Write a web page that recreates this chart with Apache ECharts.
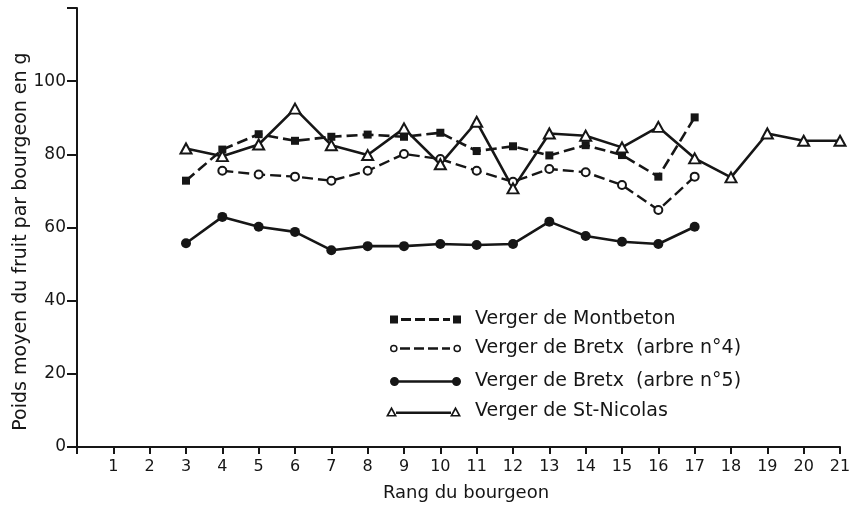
<!DOCTYPE html>
<html>
<head>
<meta charset="utf-8">
<script src="https://cdn.jsdelivr.net/npm/echarts@6/dist/echarts.min.js"></script>
<style>html,body{margin:0;padding:0;background:#fff;}#c{width:850px;height:508px;}</style>
</head>
<body>
<div id="c"></div>
<script>
var xTicks = [0,1,2,3,4,5,6,7,8,9,10,11,12,13,14,15,16,17,18,19,20,21];
var yTicks = [0,20,40,60,80,100,120];
var seriesNames = ["Verger de Montbeton","Verger de Bretx  (arbre n°4)","Verger de Bretx  (arbre n°5)","Verger de St-Nicolas"];
var montbetonX = [3,4,5,6,7,8,9,10,11,12,13,14,15,16,17];
var montbetonY = [72.8,81.3,85.5,83.7,84.8,85.4,84.8,85.9,80.9,82.2,79.7,82.5,79.8,73.9,90.1];
var bretx4X = [4,5,6,7,8,9,10,11,12,13,14,15,16,17];
var bretx4Y = [75.5,74.5,73.9,72.8,75.5,80.1,78.7,75.5,72.5,76.0,75.1,71.6,64.8,73.9];
var bretx5X = [3,4,5,6,7,8,9,10,11,12,13,14,15,16,17];
var bretx5Y = [55.7,62.9,60.2,58.8,53.8,54.9,54.9,55.5,55.2,55.5,61.6,57.7,56.1,55.5,60.2];
var nicolasX = [3,4,5,6,7,8,9,10,11,12,13,14,15,16,17,18,19,20,21];
var nicolasY = [81.6,79.5,82.7,92.5,82.5,79.8,87.1,77.3,88.9,70.7,85.7,85.1,81.9,87.5,78.9,73.7,85.7,83.7,83.7];

function pairs(xs, ys){ return xs.map(function(x,i){ return [x, ys[i]]; }); }

var INK = '#161616';
var FONT = 'DejaVu Sans';

var icons = [
  'path://M0 0H8V8H0Z M63 0H71V8H63Z M11 2.6H21V5.4H11Z M25 2.6H35V5.4H25Z M39 2.6H49V5.4H39Z M53 2.6H60V5.4H53Z',
  'path://M0 3.8A3.8 3.8 0 1 1 7.6 3.8A3.8 3.8 0 1 1 0 3.8Z M1.5 3.8A2.3 2.3 0 1 0 6.1 3.8A2.3 2.3 0 1 0 1.5 3.8Z ' +
    'M63.4 3.8A3.8 3.8 0 1 1 71 3.8A3.8 3.8 0 1 1 63.4 3.8Z M64.9 3.8A2.3 2.3 0 1 0 69.5 3.8A2.3 2.3 0 1 0 64.9 3.8Z ' +
    'M10 2.6H20V5H10Z M24 2.6H34V5H24Z M38 2.6H48V5H38Z M52 2.6H60V5H52Z',
  'path://M0 4.5A4.5 4.5 0 1 1 9 4.5A4.5 4.5 0 1 1 0 4.5Z M62 4.5A4.5 4.5 0 1 1 71 4.5A4.5 4.5 0 1 1 62 4.5Z M8 3.2H63V5.8H8Z',
  'path://M0 10L5.5 0L11 10Z M2.8 8.4L8.2 8.4L5.5 3.4Z M64 10L69.5 0L75 10Z M66.8 8.4L72.2 8.4L69.5 3.4Z M10 5H65V7.4H10Z'
];
var legendRows = [318, 347, 380, 410];
var legendDims = [[71,8],[71,7.6],[71,9],[75,10]];

var legends = seriesNames.map(function(n, i){
  return {
    data: [n],
    orient: 'vertical',
    left: 461 - legendDims[i][0],
    top: legendRows[i] - 8,
    padding: 0,
    selectedMode: false,
    itemWidth: legendDims[i][0],
    itemHeight: legendDims[i][1],
    icon: icons[i],
    symbolKeepAspect: false,
    itemStyle: { color: INK, borderColor: INK, borderWidth: 0 },
    textStyle: { fontFamily: FONT, fontSize: 19, color: INK, padding: [0,0,0,9] }
  };
});

var chart = echarts.init(document.getElementById('c'), null, {renderer: 'canvas'});
chart.setOption({
  animation: false,
  backgroundColor: '#fff',
  grid: { left: 77, right: 10, top: 8, bottom: 61, containLabel: false, outerBoundsMode: 'none' },
  legend: legends,
  xAxis: {
    type: 'value', min: 0, max: 21, interval: 1,
    name: 'Rang du bourgeon', nameLocation: 'middle', nameGap: 37, nameMoveOverlap: false,
    nameTextStyle: { fontFamily: FONT, fontSize: 18, color: INK, padding: [0,0,0,15] },
    axisLine: { show: true, onZero: false, lineStyle: { color: INK, width: 2 } },
    axisTick: { show: true, length: 7, lineStyle: { color: INK, width: 2 } },
    axisLabel: { fontFamily: FONT, fontSize: 16, color: INK, margin: 12,
      formatter: function(v){ return xTicks.indexOf(v) > 0 ? String(v) : ''; } },
    splitLine: { show: false }
  },
  yAxis: {
    type: 'value', min: 0, max: 120, interval: 20,
    name: 'Poids moyen du fruit par bourgeon en g', nameLocation: 'middle', nameGap: 46, nameRotate: 90,
    nameMoveOverlap: false,
    nameTextStyle: { fontFamily: FONT, fontSize: 19, color: INK, padding: [0,28,0,0] },
    axisLine: { show: true, lineStyle: { color: INK, width: 2 } },
    axisTick: { show: true, length: 10, lineStyle: { color: INK, width: 2 } },
    axisLabel: { fontFamily: FONT, fontSize: 17, color: INK, margin: 11,
      formatter: function(v){ return v === yTicks[yTicks.length-1] ? '' : String(v); } },
    splitLine: { show: false }
  },
  series: [
    { name: seriesNames[0], type: 'line', data: pairs(montbetonX, montbetonY),
      symbol: 'rect', symbolSize: 8,
      itemStyle: { color: INK, borderColor: INK, borderWidth: 0 },
      lineStyle: { color: INK, width: 2.6, type: [11,5] }, z: 3 },
    { name: seriesNames[1], type: 'line', data: pairs(bretx4X, bretx4Y),
      symbol: 'emptyCircle', symbolSize: 8,
      itemStyle: { color: INK, borderColor: INK, borderWidth: 1.8 },
      lineStyle: { color: INK, width: 2.4, type: [11,5] }, z: 3 },
    { name: seriesNames[2], type: 'line', data: pairs(bretx5X, bretx5Y),
      symbol: 'circle', symbolSize: 10,
      itemStyle: { color: INK, borderColor: INK, borderWidth: 0 },
      lineStyle: { color: INK, width: 2.6 }, z: 3 },
    { name: seriesNames[3], type: 'line', data: pairs(nicolasX, nicolasY),
      symbol: 'emptyTriangle', symbolSize: [11,10],
      itemStyle: { color: INK, borderColor: INK, borderWidth: 1.8 },
      lineStyle: { color: INK, width: 2.6 }, z: 3 }
  ]
});
</script>
</body>
</html>
